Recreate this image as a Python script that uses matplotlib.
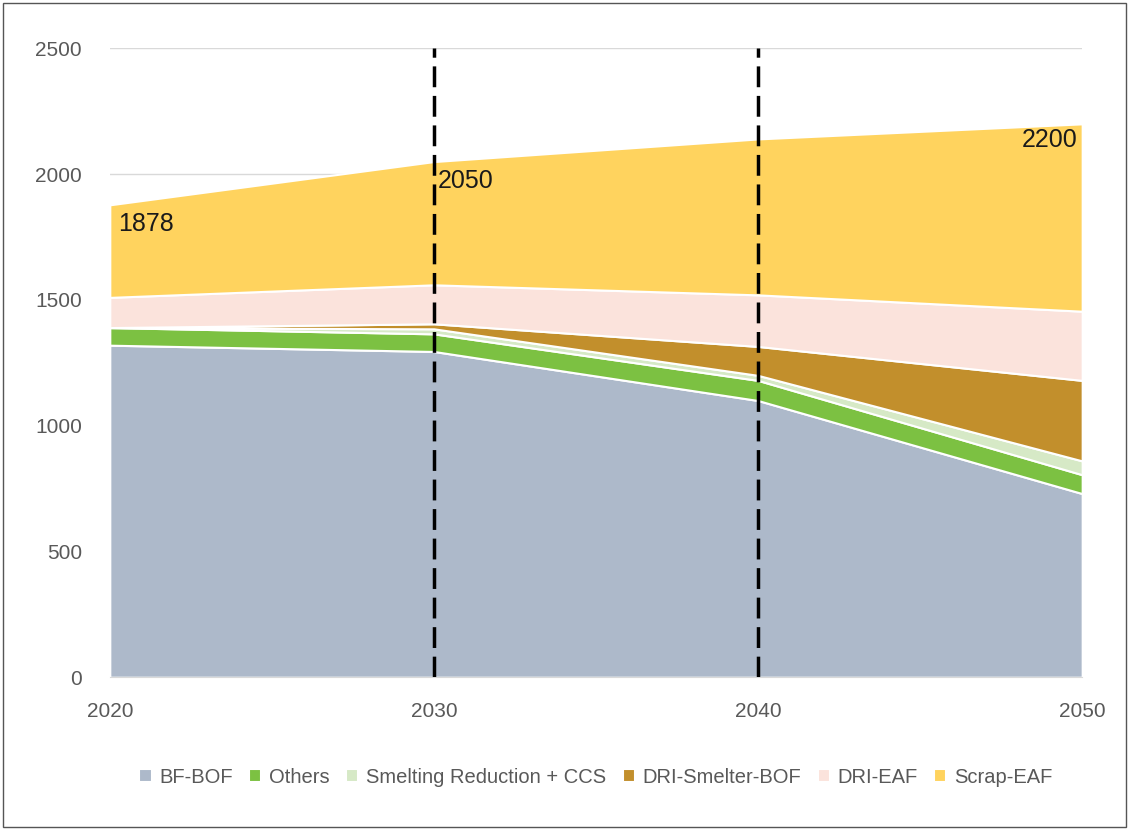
import numpy as np
import matplotlib
matplotlib.use("Agg")
import matplotlib.pyplot as plt
from matplotlib.patches import Rectangle

# %% Data (Mt steel)
years = [2020, 2030, 2040, 2050]
bf_bof = [1320, 1295, 1100, 730]
others = [70, 70, 80, 75]
smelting_ccs = [0, 20, 20, 55]
dri_smelter_bof = [0, 20, 115, 320]
dri_eaf = [120, 155, 205, 275]
scrap_eaf = [368, 490, 620, 745]

series_names = ["BF-BOF", "Others", "Smelting Reduction + CCS",
                "DRI-Smelter-BOF", "DRI-EAF", "Scrap-EAF"]
colors = ["#adb9ca", "#7cc142", "#d6e9c6", "#c28f2c", "#fbe3dc", "#ffd35e"]

totals = np.sum([bf_bof, others, smelting_ccs, dri_smelter_bof, dri_eaf, scrap_eaf], axis=0)
label_years = [2020, 2030, 2050]
marker_years = [2030, 2040]

plt.rcParams['font.family'] = ['Liberation Sans', 'DejaVu Sans']

# %% Plot
fig = plt.figure(figsize=(11.32, 8.34), dpi=100)
ax = fig.add_axes([0.097, 0.188, 0.859, 0.754])

ax.stackplot(years, bf_bof, others, smelting_ccs, dri_smelter_bof, dri_eaf, scrap_eaf,
             labels=series_names, colors=colors, edgecolor="white", linewidth=1.5, zorder=2)

for yr in marker_years:
    ax.axvline(yr, color="black", linestyle=(0, (6, 2.5)), linewidth=2.5, zorder=3)

# total labels
for yr in label_years:
    i = years.index(yr)
    if yr == years[-1]:
        ax.text(yr - 0.15, totals[i] - 15, f"{totals[i]:.0f}", ha="right", va="top",
                fontsize=18, color="#1a1a1a", zorder=4)
    else:
        ax.text(yr + (0.25 if yr == 2020 else 0.12), totals[i] - 30,
                f"{totals[i]:.0f}", ha="left", va="top", fontsize=18,
                color="#1a1a1a", zorder=4)

ax.set_xlim(2020, 2050)
ax.set_ylim(0, 2500)
ax.set_xticks(years)
ax.set_yticks(np.arange(0, 2501, 500))
ax.grid(axis="y", color="#d9d9d9", linewidth=1, zorder=0)
ax.set_axisbelow(True)
for s in ["top", "right", "left"]:
    ax.spines[s].set_visible(False)
ax.spines["bottom"].set_color("#d9d9d9")
ax.tick_params(axis="both", length=0, labelsize=15, colors="#595959")
ax.tick_params(axis="x", pad=18)
ax.tick_params(axis="y", pad=20)

ax.legend(loc="upper center", bbox_to_anchor=(0.5, -0.115), ncol=6, frameon=False,
          fontsize=14.5, handlelength=0.6, handleheight=0.6, handletextpad=0.4,
          columnspacing=0.8, labelcolor="#595959")

fig.patches.append(Rectangle((0.003, 0.008), 0.992, 0.988, transform=fig.transFigure,
                             fill=False, edgecolor="#555555", linewidth=1))

plt.savefig("out.png", dpi=100)
